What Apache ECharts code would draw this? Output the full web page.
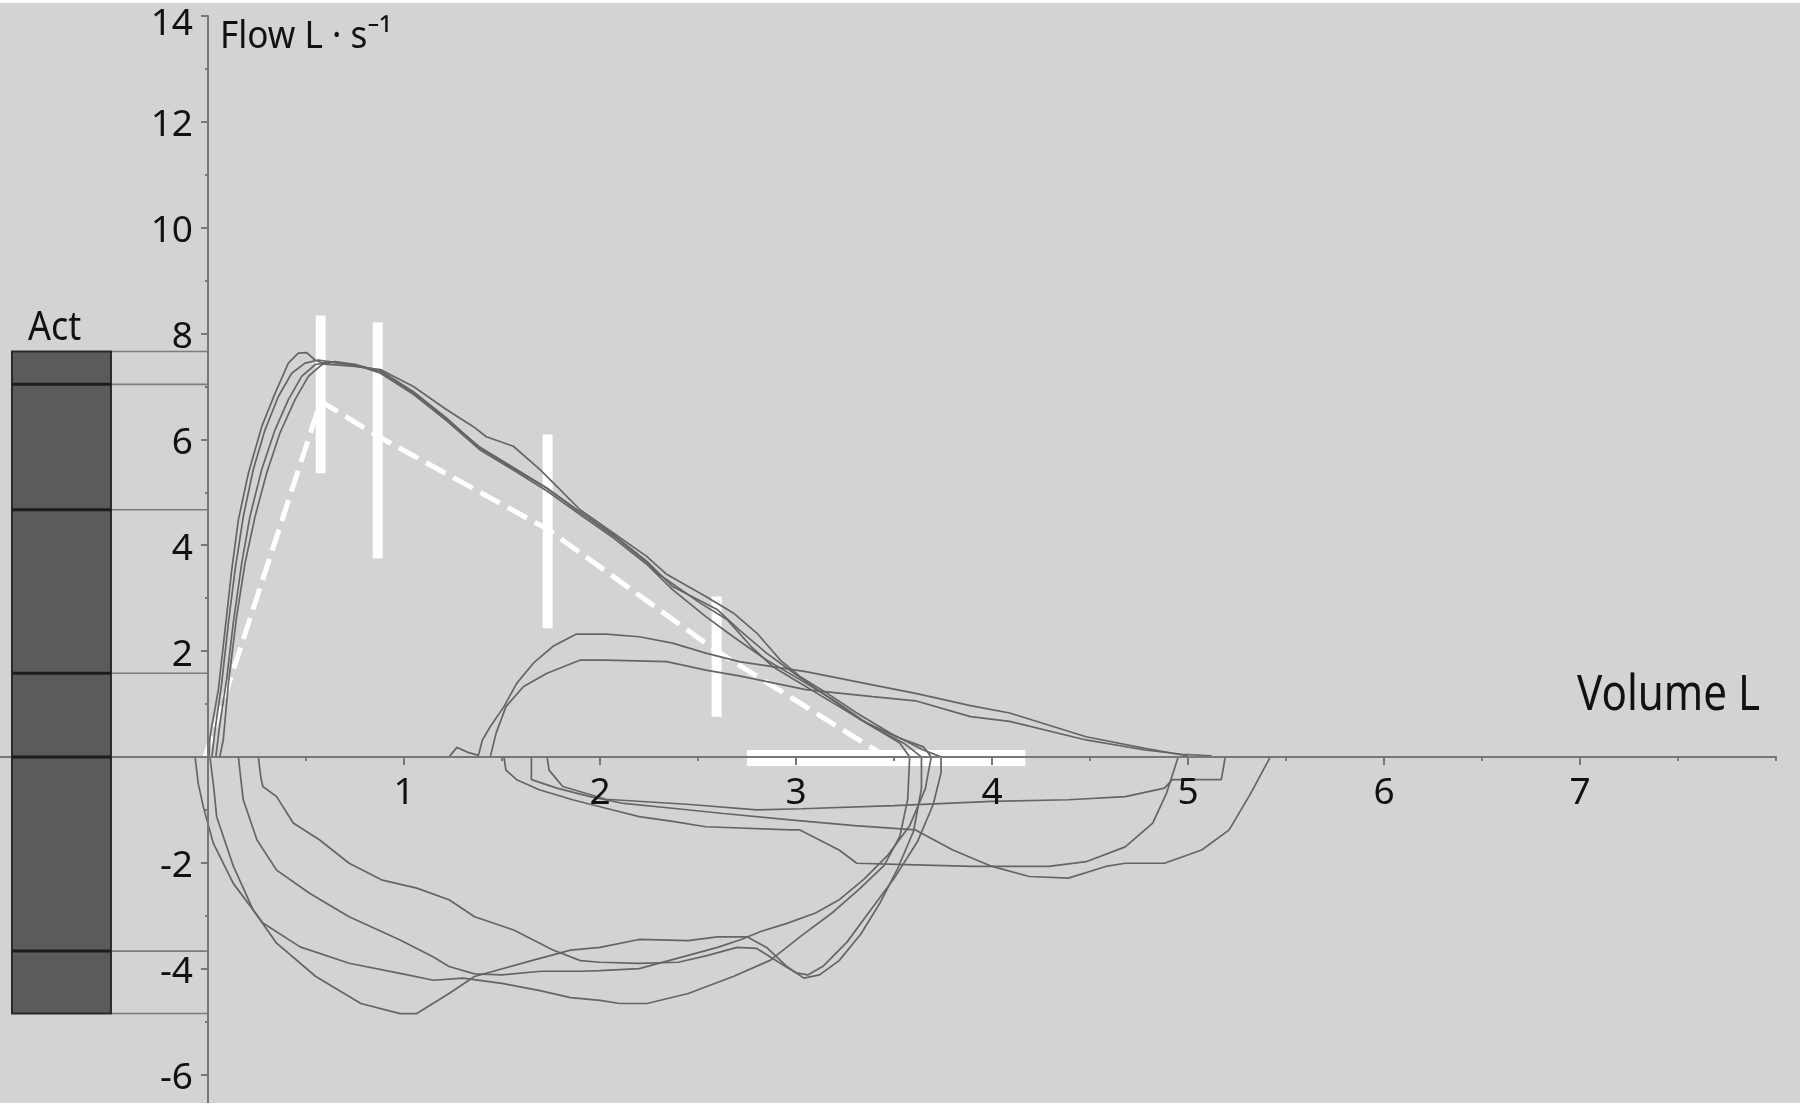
<!DOCTYPE html>
<html><head><meta charset="utf-8">
<script src="https://cdn.jsdelivr.net/npm/echarts@6/dist/echarts.min.js"></script>
<style>html,body{margin:0;padding:0;background:#fff;}#c{width:1800px;height:1107px;}</style>
</head><body><div id="c"></div>
<script>
// ---------------- data ----------------
const xTickLabels = [1, 2, 3, 4, 5, 6, 7];
const xMajorTicks = [1, 2, 3, 4, 5, 6, 7];
const xMinorTicks = [0.5, 1.5, 2.5, 3.5, 4.5, 5.5, 6.5, 7.5, 8];
const yTickLabels = [-6, -4, -2, 2, 4, 6, 8, 10, 12, 14];
const yMajorTicks = [-6, -4, -2, 2, 4, 6, 8, 10, 12, 14];
const yMinorTicks = [-5, -3, -1, 1, 3, 5, 7, 9, 11, 13];

// "Act" column (actual values)
const actTop = 7.66;
const actBottom = -4.85;
const actMarks = [7.04, 4.67, 1.58, 0, -3.67];
const actRefLevels = [7.66, 7.04, 4.67, 1.58, -3.67, -4.85];

// predicted ranges (white bars) and predicted curve (white dashed)
const predX = [0.575, 0.866, 1.733, 2.595];
const predLow = [5.36, 3.75, 2.43, 0.76];
const predHigh = [8.34, 8.21, 6.09, 3.03];
const predFvcLow = 2.75;
const predFvcHigh = 4.17;
const predFvcFlow = -0.02;
const predLine = [[-0.015, 0], [0.575, 6.72], [0.866, 6.06], [1.733, 4.3], [2.595, 2.0], [3.46, 0]];

// expiratory curves (main efforts)
const exp1 = [[0.005,0],[0.01,0.38],[0.053,1.27],[0.087,2.40],[0.121,3.53],[0.155,4.48],[0.206,5.36],[0.274,6.24],[0.342,6.87],[0.41,7.44],[0.461,7.63],[0.503,7.64],[0.546,7.50],[0.6,7.42],[0.75,7.38],[0.88,7.32],[1.048,7.0],[1.218,6.56],[1.354,6.24],[1.42,6.05],[1.558,5.87],[1.694,5.43],[1.78,5.11],[1.898,4.67],[2.068,4.23],[2.238,3.79],[2.34,3.45],[2.54,3.03],[2.68,2.72],[2.80,2.34],[2.92,1.83],[3.02,1.52],[3.16,1.20],[3.31,0.83],[3.48,0.45],[3.65,0.13],[3.74,0]];
const exp2 = [[0.02,0],[0.036,0.51],[0.07,1.39],[0.104,2.53],[0.138,3.53],[0.18,4.54],[0.231,5.43],[0.291,6.18],[0.359,6.81],[0.427,7.25],[0.495,7.44],[0.563,7.50],[0.65,7.45],[0.75,7.40],[0.88,7.30],[1.048,6.9],[1.218,6.4],[1.388,5.83],[1.558,5.45],[1.728,5.08],[1.898,4.63],[2.068,4.18],[2.238,3.68],[2.30,3.45],[2.51,2.91],[2.65,2.59],[2.77,2.09],[2.88,1.71],[3.05,1.33],[3.22,0.95],[3.39,0.57],[3.55,0.26],[3.64,0]];
const exp3 = [[0.04,0],[0.061,0.64],[0.095,1.46],[0.129,2.53],[0.172,3.66],[0.214,4.54],[0.274,5.43],[0.342,6.18],[0.41,6.75],[0.478,7.19],[0.546,7.41],[0.614,7.47],[0.7,7.42],[0.8,7.35],[0.88,7.25],[1.048,6.85],[1.218,6.35],[1.388,5.8],[1.558,5.42],[1.728,5.03],[1.898,4.58],[2.068,4.14],[2.238,3.64],[2.37,3.16],[2.54,2.65],[2.68,2.27],[2.85,1.83],[3.02,1.46],[3.19,1.08],[3.36,0.64],[3.53,0.26],[3.58,0]];
const exp4 = [[0.06,0],[0.078,0.32],[0.104,1.39],[0.146,2.65],[0.189,3.66],[0.24,4.54],[0.299,5.36],[0.367,6.12],[0.444,6.75],[0.512,7.19],[0.58,7.41],[0.648,7.47],[0.75,7.42],[0.88,7.28],[1.048,6.88],[1.218,6.38],[1.388,5.85],[1.558,5.47],[1.728,5.08],[1.898,4.62],[2.068,4.2],[2.238,3.7],[2.37,3.22],[2.60,2.78],[2.71,2.40],[2.85,1.96],[2.99,1.58],[3.16,1.14],[3.33,0.70],[3.51,0.38],[3.65,0.19],[3.69,0]];

// inspiratory curves (main efforts)
const insp1 = [[0.01,0],[0.03,-0.6],[0.044,-1.13],[0.13,-2.07],[0.23,-2.89],[0.35,-3.52],[0.55,-4.15],[0.78,-4.66],[0.98,-4.85],[1.065,-4.85],[1.23,-4.47],[1.36,-4.15],[1.66,-3.84],[1.85,-3.65],[2.0,-3.6],[2.2,-3.45],[2.45,-3.47],[2.6,-3.4],[2.75,-3.4],[2.85,-3.6],[2.95,-3.95],[3.04,-4.18],[3.12,-4.12],[3.22,-3.85],[3.33,-3.35],[3.43,-2.75],[3.52,-2.1],[3.6,-1.4],[3.64,-0.6],[3.64,0]];
const insp2 = [[-0.066,0],[-0.05,-0.5],[-0.024,-0.94],[0.027,-1.63],[0.129,-2.39],[0.28,-3.14],[0.47,-3.59],[0.72,-3.9],[0.98,-4.09],[1.15,-4.22],[1.3,-4.18],[1.5,-4.28],[1.7,-4.42],[1.85,-4.55],[2.0,-4.6],[2.1,-4.66],[2.24,-4.66],[2.45,-4.47],[2.68,-4.15],[2.87,-3.84],[3.02,-3.4],[3.18,-2.96],[3.32,-2.51],[3.45,-2.05],[3.53,-1.5],[3.57,-0.8],[3.58,0]];
const insp3 = [[0.155,0],[0.17,-0.5],[0.18,-0.81],[0.25,-1.57],[0.35,-2.14],[0.52,-2.58],[0.72,-3.02],[0.98,-3.46],[1.15,-3.78],[1.23,-3.96],[1.36,-4.1],[1.5,-4.12],[1.7,-4.05],[1.9,-4.05],[2.0,-4.04],[2.2,-4.0],[2.45,-3.75],[2.6,-3.6],[2.72,-3.45],[2.82,-3.3],[2.95,-3.15],[3.1,-2.95],[3.22,-2.7],[3.35,-2.3],[3.47,-1.85],[3.58,-1.3],[3.66,-0.6],[3.69,0]];
const insp4 = [[0.257,0],[0.27,-0.4],[0.28,-0.56],[0.35,-0.75],[0.435,-1.25],[0.57,-1.57],[0.72,-2.01],[0.89,-2.33],[1.065,-2.48],[1.23,-2.70],[1.36,-3.02],[1.56,-3.27],[1.76,-3.65],[1.9,-3.85],[2.0,-3.88],[2.2,-3.9],[2.4,-3.88],[2.55,-3.75],[2.7,-3.6],[2.8,-3.62],[2.92,-3.9],[3.0,-4.08],[3.06,-4.12],[3.14,-3.95],[3.26,-3.5],[3.38,-2.9],[3.5,-2.3],[3.62,-1.6],[3.7,-0.9],[3.74,-0.3],[3.74,0]];

// secondary (smaller) loops
const smallExp1 = [[1.23,0],[1.27,0.18],[1.33,0.08],[1.38,0.03],[1.40,0.32],[1.44,0.57],[1.51,0.95],[1.575,1.39],[1.66,1.77],[1.76,2.09],[1.88,2.32],[2.03,2.32],[2.20,2.27],[2.37,2.15],[2.54,1.96],[2.71,1.80],[3.05,1.61],[3.39,1.36],[3.61,1.2],[3.89,0.97],[4.09,0.83],[4.48,0.38],[4.78,0.16],[4.95,0.05],[5.0,0.02]];
const smallExp2 = [[1.44,0],[1.47,0.45],[1.52,0.95],[1.61,1.33],[1.73,1.58],[1.90,1.83],[2.03,1.83],[2.34,1.80],[2.54,1.64],[2.71,1.53],[3.05,1.27],[3.39,1.14],[3.61,1.06],[3.89,0.76],[4.09,0.67],[4.48,0.32],[4.78,0.13],[4.97,0.05],[5.12,0.02]];
const smallInsp1 = [[1.51,0],[1.52,-0.25],[1.575,-0.43],[1.69,-0.62],[1.86,-0.81],[2.03,-0.97],[2.20,-1.13],[2.37,-1.22],[2.54,-1.32],[2.97,-1.38],[3.02,-1.38],[3.22,-1.76],[3.31,-2.01],[3.61,-2.04],[3.90,-2.07],[4.29,-2.07],[4.48,-1.98],[4.68,-1.70],[4.82,-1.25],[4.89,-0.69],[4.95,0]];
const smallInsp2 = [[1.65,0],[1.65,-0.43],[1.78,-0.59],[1.95,-0.75],[2.12,-0.88],[2.37,-0.97],[2.63,-1.07],[2.97,-1.19],[3.3,-1.3],[3.61,-1.38],[3.80,-1.76],[4.0,-2.07],[4.19,-2.26],[4.39,-2.29],[4.58,-2.07],[4.68,-2.01],[4.88,-2.01],[5.07,-1.76],[5.21,-1.38],[5.32,-0.69],[5.42,0]];
const smallInsp3 = [[1.73,0],[1.74,-0.25],[1.81,-0.56],[2.03,-0.8],[2.46,-0.9],[2.8,-1.0],[3.03,-0.98],[3.5,-0.92],[4.0,-0.84],[4.39,-0.81],[4.68,-0.75],[4.88,-0.59],[4.92,-0.43],[5.05,-0.43],[5.17,-0.43],[5.19,0]];

const curves = [exp1, exp2, exp3, exp4, insp1, insp2, insp3, insp4, smallExp1, smallExp2, smallInsp1, smallInsp2, smallInsp3];

// ---------------- layout / style ----------------
const FONT = '"Noto Sans", "DejaVu Sans", sans-serif';
const X_MIN = -1.0612, X_MAX = 8, Y_MIN = -6.54, Y_MAX = 14;
const ACT_X0 = -1.0, ACT_X1 = -0.495;
const W = 1800, H = 1107;
const G_LEFT = 0, G_RIGHT = 24, G_TOP = 16, G_BOTTOM = 4;
const gridW = W - G_LEFT - G_RIGHT, gridH = H - G_TOP - G_BOTTOM;
// move the axes from the grid edges to the zero lines
const X_AXIS_OFFSET = -gridH * (0 - Y_MIN) / (Y_MAX - Y_MIN);
const Y_AXIS_OFFSET = -gridW * (0 - X_MIN) / (X_MAX - X_MIN);
const AXIS_COLOR = '#777777';
const CURVE_COLOR = '#656565';

const chart = echarts.init(document.getElementById('c'), null, {renderer: 'canvas'});

const series = [];

// Act column bar
series.push({
  type: 'custom', z: 11, silent: true,
  encode: {x: 0, y: [1, 2]},
  data: [[ACT_X0, actBottom, actTop]],
  renderItem: function (params, api) {
    const p0 = api.coord([ACT_X0, actTop]);
    const p1 = api.coord([ACT_X1, actBottom]);
    const children = [{
      type: 'rect',
      shape: {x: p0[0], y: p0[1], width: p1[0] - p0[0], height: p1[1] - p0[1]},
      style: {fill: '#5b5b5b', stroke: '#2a2a2a', lineWidth: 2}
    }];
    actMarks.forEach(function (v) {
      const a = api.coord([ACT_X0, v]);
      const b = api.coord([ACT_X1, v]);
      children.push({type: 'line', shape: {x1: a[0], y1: a[1], x2: b[0], y2: b[1]},
        style: {stroke: '#1c1c1c', lineWidth: 3}});
    });
    return {type: 'group', children: children};
  }
});

// Act reference lines to the flow axis
series.push({
  type: 'custom', z: 1, silent: true,
  encode: {x: 0, y: 1},
  data: actRefLevels.map(function (v) { return [ACT_X1, v]; }),
  renderItem: function (params, api) {
    const v = api.value(1);
    const a = api.coord([ACT_X1, v]);
    const b = api.coord([0, v]);
    return {type: 'line', shape: {x1: a[0], y1: a[1], x2: b[0], y2: b[1]},
      style: {stroke: '#7c7c7c', lineWidth: 1.6}};
  }
});

// x-axis line continued to the left edge (behind the Act column)
series.push({
  type: 'custom', z: 1, silent: true,
  encode: {x: [0, 1], y: 2},
  data: [[X_MIN, 0, 0]],
  renderItem: function (params, api) {
    const a = api.coord([api.value(0), api.value(2)]);
    const b = api.coord([api.value(1), api.value(2)]);
    return {type: 'line', shape: {x1: a[0], y1: a[1], x2: b[0], y2: b[1]},
      style: {stroke: AXIS_COLOR, lineWidth: 2}};
  }
});

// predicted ranges: vertical white bars
series.push({
  type: 'custom', z: 2, silent: true,
  encode: {x: 0, y: [1, 2]},
  data: predX.map(function (x, i) { return [x, predLow[i], predHigh[i]]; }),
  renderItem: function (params, api) {
    const top = api.coord([api.value(0), api.value(2)]);
    const bot = api.coord([api.value(0), api.value(1)]);
    return {type: 'rect', shape: {x: top[0] - 5, y: top[1], width: 10, height: bot[1] - top[1]},
      style: {fill: '#ffffff'}};
  }
});

// predicted FVC range: horizontal white bar
series.push({
  type: 'custom', z: 2, silent: true,
  encode: {x: [0, 1], y: 2},
  data: [[predFvcLow, predFvcHigh, predFvcFlow]],
  renderItem: function (params, api) {
    const a = api.coord([api.value(0), api.value(2)]);
    const b = api.coord([api.value(1), api.value(2)]);
    return {type: 'rect', shape: {x: a[0], y: a[1] - 8, width: b[0] - a[0], height: 16},
      style: {fill: '#ffffff'}};
  }
});

// predicted curve
series.push({
  type: 'line', z: 3, silent: true, symbol: 'none', data: predLine,
  lineStyle: {color: '#ffffff', width: 5, type: [22, 9], cap: 'butt'}
});

curves.forEach(function (c) {
  series.push({
    type: 'line', z: 4, silent: true, symbol: 'none', showSymbol: false, data: c,
    lineStyle: {color: CURVE_COLOR, width: 1.7}
  });
});

const tickLabelStyle = {fontSize: 37, fontFamily: FONT, color: '#111111'};

chart.setOption({
  animation: false,
  backgroundColor: '#d3d3d3',
  grid: {left: G_LEFT, right: G_RIGHT, top: G_TOP, bottom: G_BOTTOM, containLabel: false, outerBoundsMode: 'none'},
  xAxis: [{
    type: 'value', min: X_MIN, max: X_MAX, position: 'bottom', offset: X_AXIS_OFFSET, z: 10,
    axisLine: {onZero: false, lineStyle: {color: AXIS_COLOR, width: 2}},
    axisTick: {show: true, customValues: xMajorTicks, length: 8, lineStyle: {color: AXIS_COLOR, width: 2}},
    axisLabel: Object.assign({customValues: xTickLabels, margin: 18}, tickLabelStyle),
    splitLine: {show: false}
  }, {
    type: 'value', min: X_MIN, max: X_MAX, position: 'bottom', offset: X_AXIS_OFFSET, z: 10,
    axisLine: {show: false, onZero: false},
    axisTick: {show: true, customValues: xMinorTicks, length: 4, lineStyle: {color: AXIS_COLOR, width: 2}},
    axisLabel: {show: false},
    splitLine: {show: false}
  }],
  yAxis: [{
    type: 'value', min: Y_MIN, max: Y_MAX, position: 'left', offset: Y_AXIS_OFFSET, z: 10,
    axisLine: {onZero: false, lineStyle: {color: AXIS_COLOR, width: 2}},
    axisTick: {show: true, customValues: yMajorTicks, length: 7, lineStyle: {color: AXIS_COLOR, width: 2}},
    axisLabel: {
      customValues: yTickLabels, margin: 15,
      // a thin spacer line nudges the numbers slightly below their ticks, as in the original
      formatter: function (v) { return (v === Y_MAX ? '{s2| }' : '{s| }') + '\n{n|' + v + '}'; },
      rich: {
        s: {fontSize: 8, lineHeight: 8, height: 8},
        s2: {fontSize: 8, lineHeight: 16, height: 16},
        n: {fontSize: 37, fontFamily: FONT, color: '#111111', lineHeight: 44}
      }
    },
    splitLine: {show: false}
  }, {
    type: 'value', min: Y_MIN, max: Y_MAX, position: 'left', offset: Y_AXIS_OFFSET, z: 10,
    axisLine: {show: false, onZero: false},
    axisTick: {show: true, customValues: yMinorTicks, length: 3, lineStyle: {color: AXIS_COLOR, width: 2}},
    axisLabel: {show: false},
    splitLine: {show: false}
  }],
  graphic: [
    {type: 'rect', z: 100, shape: {x: 0, y: 0, width: 1800, height: 3}, style: {fill: '#ffffff'}},
    {type: 'rect', z: 100, shape: {x: 0, y: 1103, width: 1800, height: 4}, style: {fill: '#ffffff'}},
    {type: 'text', z: 100, x: 220, y: 37, scaleX: 0.9,
      style: {text: 'Flow L · s⁻¹', font: '39px ' + FONT, fill: '#111111', align: 'left', verticalAlign: 'middle'}},
    {type: 'text', z: 100, x: 1760, y: 696, scaleX: 0.86,
      style: {text: 'Volume L', font: '49px ' + FONT, fill: '#111111', align: 'right', verticalAlign: 'middle'}},
    {type: 'text', z: 100, x: 28, y: 329, scaleX: 0.9,
      style: {text: 'Act', font: '40px ' + FONT, fill: '#111111', align: 'left', verticalAlign: 'middle'}}
  ],
  series: series
});
</script>
</body></html>
